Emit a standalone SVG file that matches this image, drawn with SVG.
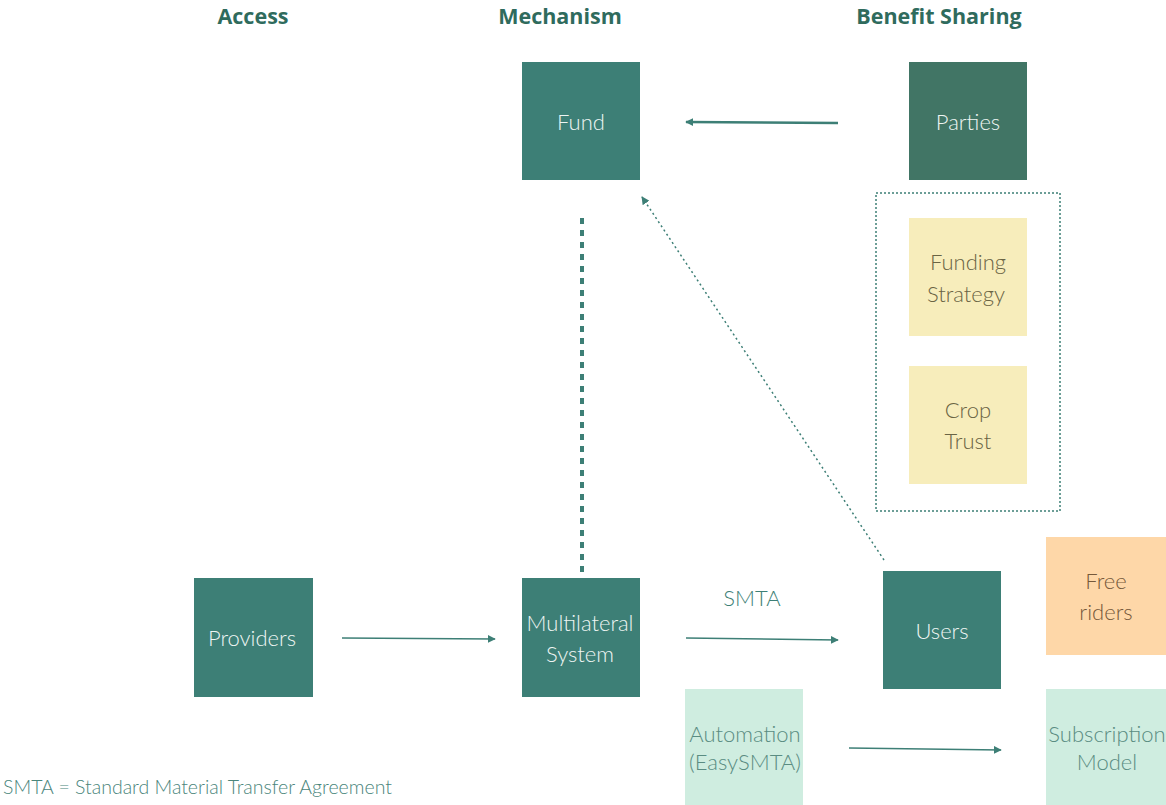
<svg xmlns="http://www.w3.org/2000/svg" width="1166" height="805" viewBox="0 0 1166 805">
<defs>
<style>
.hdr{font-family:"Open Sans","Liberation Sans",sans-serif;font-weight:bold;font-size:21.5px;fill:#2f6b5d;text-anchor:middle}
.dark{fill:#3d7f76}
.tw{font-family:Lato,"Open Sans",sans-serif;font-weight:300;font-size:22px;fill:#eef5f3;text-anchor:middle}
.ty{font-family:Lato,"Open Sans",sans-serif;font-weight:300;font-size:22px;fill:#6a6444;text-anchor:middle}
.to{font-family:Lato,"Open Sans",sans-serif;font-weight:300;font-size:22px;fill:#75583a;text-anchor:middle}
.tg{font-family:Lato,"Open Sans",sans-serif;font-weight:300;font-size:22px;fill:#5a8c82;text-anchor:middle}
.conn{stroke:#3d7f76;fill:none}
</style>
<marker id="ah2" viewBox="0 0 10 10" refX="9" refY="5" markerWidth="8" markerHeight="8" orient="auto" markerUnits="userSpaceOnUse">
<path d="M0,0 L10,5 L0,10 z" fill="#3d7f76"/>
</marker>
</defs>
<rect width="1166" height="805" fill="#ffffff"/>
<g id="headers">
<text class="hdr" x="253" y="24">Access</text>
<text class="hdr" x="560" y="24">Mechanism</text>
<text class="hdr" x="939" y="24">Benefit Sharing</text>
</g>
<g id="connectors">
<line class="conn" x1="838" y1="123" x2="686" y2="122" stroke-width="2.5" marker-end="url(#ah2)"/>
<line class="conn" x1="582" y1="218" x2="582" y2="578" stroke-width="4" stroke-dasharray="6,6"/>
<line class="conn" x1="884" y1="560" x2="642" y2="197" stroke-width="1.5" stroke-dasharray="2,3" marker-end="url(#ah2)"/>
<line class="conn" x1="342" y1="638" x2="495" y2="639" stroke-width="1.5" marker-end="url(#ah2)"/>
<line class="conn" x1="686" y1="638" x2="838" y2="640" stroke-width="1.5" marker-end="url(#ah2)"/>
<line class="conn" x1="849" y1="748" x2="1001" y2="750" stroke-width="1.5" marker-end="url(#ah2)"/>
<text x="752" y="606" font-family="Lato,'Open Sans',sans-serif" font-weight="300" font-size="22" fill="#3d7f76" text-anchor="middle">SMTA</text>
</g>
<g id="fund"><rect class="dark" x="522" y="62" width="118" height="118"/><text class="tw" x="581" y="130">Fund</text></g>
<g id="parties"><rect x="909" y="62" width="118" height="118" fill="#417565"/><text class="tw" x="968" y="130">Parties</text></g>
<g id="container"><rect x="876" y="193" width="184" height="318" fill="none" stroke="#3d7f76" stroke-width="1.5" stroke-dasharray="2,2"/></g>
<g id="funding-strategy"><rect x="909" y="218" width="118" height="118" fill="#f7edbb"/><text class="ty" x="968" y="270">Funding</text><text class="ty" x="966" y="302">Strategy</text></g>
<g id="crop-trust"><rect x="909" y="366" width="118" height="118" fill="#f7edbb"/><text class="ty" x="968" y="418">Crop</text><text class="ty" x="968" y="449">Trust</text></g>
<g id="providers"><rect class="dark" x="194" y="578" width="119" height="119"/><text class="tw" x="252" y="646">Providers</text></g>
<g id="multilateral"><rect class="dark" x="522" y="578" width="118" height="119"/><text class="tw" x="580" y="631">Multilateral</text><text class="tw" x="580" y="662">System</text></g>
<g id="users"><rect class="dark" x="883" y="571" width="118" height="118"/><text class="tw" x="942" y="639">Users</text></g>
<g id="free-riders"><rect x="1046" y="537" width="120" height="118" fill="#fed7a8"/><text class="to" x="1106" y="589">Free</text><text class="to" x="1106" y="620">riders</text></g>
<g id="automation"><rect x="685" y="689" width="118" height="116" fill="#cfede0"/><text class="tg" x="745" y="742">Automation</text><text class="tg" x="745" y="770">(EasySMTA)</text></g>
<g id="subscription"><rect x="1046" y="689" width="120" height="116" fill="#cfede0"/><text class="tg" x="1107" y="742">Subscription</text><text class="tg" x="1107" y="770">Model</text></g>
<g id="footer"><text x="3" y="794" font-family="Lato,'Open Sans',sans-serif" font-weight="300" font-size="19.5" fill="#4a857b">SMTA = Standard Material Transfer Agreement</text></g>
</svg>
